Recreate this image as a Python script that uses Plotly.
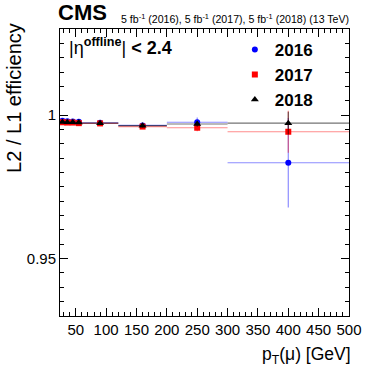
"""
    L2 / L1 muon trigger efficiency vs pT, CMS style
"""
import plotly.graph_objects as go

## data
bin_edges = [24, 32, 40, 50, 60, 120, 200, 300, 500]
pt_centers = [28, 36, 45, 55, 90, 160, 250, 400]
eff_2016 = [0.9980, 0.9979, 0.9978, 0.9977, 0.9973, 0.9964, 0.9975, 0.9834]
err_2016 = [0.0003, 0.0003, 0.0003, 0.0004, 0.0003, 0.0006, 0.0017, 0.0156]
eff_2017 = [0.9975, 0.9974, 0.9974, 0.9972, 0.9971, 0.9960, 0.9956, 0.9942]
err_2017 = [0.0003, 0.0003, 0.0003, 0.0004, 0.0003, 0.0006, 0.0012, 0.0073]
eff_2018 = [0.9976, 0.9975, 0.9975, 0.9974, 0.9972, 0.9963, 0.9969, 0.9972]
err_2018 = [0.0003, 0.0003, 0.0003, 0.0004, 0.0003, 0.0006, 0.0010, 0.0040]

FONT = 'Liberation Sans, Arial, Helvetica, sans-serif'

x_plus = [bin_edges[i + 1] - pt_centers[i] for i in range(len(pt_centers))]
x_minus = [pt_centers[i] - bin_edges[i] for i in range(len(pt_centers))]

series = [
    ('2016', eff_2016, err_2016, 'rgb(0,0,255)', 'rgba(0,0,255,0.45)', 'circle', 6),
    ('2017', eff_2017, err_2017, 'rgb(255,0,0)', 'rgba(255,0,0,0.45)', 'square', 6),
    ('2018', eff_2018, err_2018, 'rgb(0,0,0)', 'rgba(0,0,0,0.55)', 'triangle-up', 7),
]

fig = go.Figure()
for name, eff, err, col, ecol, sym, size in series:
    fig.add_trace(go.Scatter(
        x=pt_centers, y=eff, mode='markers', name=name,
        marker=dict(color=col, symbol=sym, size=size),
        error_x=dict(type='data', symmetric=False, array=x_plus, arrayminus=x_minus,
                     color=ecol, thickness=1.2, width=0),
        error_y=dict(type='data', array=err, color=ecol, thickness=1.2, width=0),
    ))

axis_common = dict(
    showline=True, linecolor='black', linewidth=1, mirror='allticks',
    ticks='inside', ticklen=8, tickcolor='black', showgrid=False, zeroline=False,
    tickfont=dict(family=FONT, size=15, color='black'),
)

fig.update_layout(
    width=374, height=372,
    margin=dict(l=60, r=20, t=29, b=56),
    plot_bgcolor='white', paper_bgcolor='white',
    font=dict(family=FONT, color='black'),
    xaxis=dict(range=[24, 500], tickvals=[50, 100, 150, 200, 250, 300, 350, 400, 450, 500],
               minor=dict(dtick=10, tick0=0, ticks='inside', ticklen=4, tickcolor='black'),
               **axis_common),
    yaxis=dict(range=[0.93, 1.03], tickvals=[0.95, 1.0], ticktext=['0.95', '1'],
               minor=dict(dtick=0.005, tick0=0.93, ticks='inside', ticklen=4, tickcolor='black'),
               **axis_common),
    showlegend=True,
    legend=dict(x=0.605, y=0.99, xanchor='left', yanchor='top', bgcolor='rgba(0,0,0,0)',
                font=dict(family=FONT, size=17, color='black', weight='bold'),
                itemwidth=30),
)

fig.layout.annotations = [
    dict(text='<b>CMS</b>', xref='paper', yref='paper', x=0.0, y=1.0, yshift=2, xshift=-4,
         xanchor='left', yanchor='bottom', showarrow=False,
         font=dict(family=FONT, size=22, color='black')),
    dict(text='5 fb<sup>-1</sup> (2016), 5 fb<sup>-1</sup> (2017), 5 fb<sup>-1</sup> (2018) (13 TeV)',
         xref='paper', yref='paper', x=1.0, y=1.0, yshift=2, xshift=2,
         xanchor='right', yanchor='bottom', showarrow=False,
         font=dict(family=FONT, size=10.6, color='black')),
    dict(text='|\u03b7<sup><b>offline</b></sup>| <b>< 2.4</b>', xref='paper', yref='paper',
         x=0.025, y=0.985, xanchor='left', yanchor='top', showarrow=False,
         font=dict(family=FONT, size=18, color='black')),
    dict(text='L2 / L1 efficiency', xref='paper', yref='paper', x=0, xshift=-46,
         y=0.76, xanchor='center', yanchor='middle', textangle=-90, showarrow=False,
         font=dict(family=FONT, size=20, color='black')),
    dict(text='p<sub>T</sub>(\u03bc) [GeV]', xref='paper', yref='paper', x=1.0, y=0,
         yshift=-26, xshift=4, xanchor='right', yanchor='top', showarrow=False,
         font=dict(family=FONT, size=17.5, color='black')),
]

fig.write_html('out.html', post_script="document.body.style.margin='0';",
               config={'displayModeBar': False})
